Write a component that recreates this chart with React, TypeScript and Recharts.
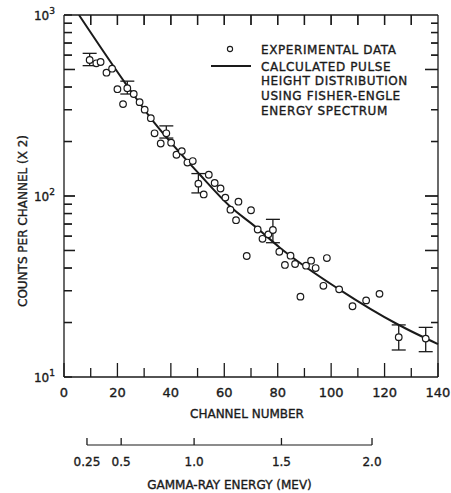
import { ComposedChart, Line, Scatter, XAxis, YAxis, ErrorBar } from "recharts"

// measured points (channel number, counts per channel x2)
const channels = [
  9.6, 12.1, 13.7, 15.9, 18.0, 20.0, 22.1, 23.7, 26.1, 28.3,
  30.2, 32.5, 33.9, 36.2, 38.3, 40.1, 42.1, 44.1, 46.2, 48.2,
  50.3, 52.3, 54.2, 56.4, 58.6, 60.4, 62.3, 64.4, 65.3, 68.4,
  70.0, 72.5, 74.3, 76.5, 78.2, 80.6, 82.7, 84.8, 86.5, 88.5,
  90.6, 92.5, 94.2, 97.1, 98.4, 103.0, 108.0, 113.1, 118.1, 125.3,
  135.4,
]
const counts = [
  564, 541, 550, 480, 505, 389, 322, 394, 366, 330,
  300, 269, 222, 195, 222, 197, 169, 177, 153, 156,
  117, 102, 131, 118, 110, 98, 84, 73.5, 93, 46.6,
  83.4, 65.3, 58, 61.4, 64.9, 49.2, 41.6, 46.8, 42.1, 27.8,
  41.2, 43.9, 40.0, 31.9, 45.4, 30.5, 24.6, 26.5, 28.8, 16.6,
  16.3,
]

// error bars (low / high count bounds)
const errChannels = [9.6, 23.7, 38.3, 50.3, 78.2, 125.3, 135.4]
const errLow = [525, 366, 209, 104, 55.2, 14.1, 13.8]
const errHigh = [614, 431, 244, 133, 74.3, 19.4, 18.8]

// calculated pulse height distribution
const curveChannels = [5.6, 23.7, 32.1, 50.9, 62.0, 72.0, 80.7, 103, 125, 140]
const curveCounts = [1000, 405, 274, 131, 88, 67, 52, 30.5, 19.5, 15.2]

const channelTicks = [0, 10, 20, 30, 40, 50, 60, 70, 80, 90, 100, 110, 120, 130, 140]
const countTicks = [10, 20, 30, 40, 50, 60, 70, 80, 90, 100, 200, 300, 400, 500, 600, 700, 800, 900, 1000]

// secondary energy scale, placed by channel number
const energyLabels = ["0.25", "0.5", "1.0", "1.5", "2.0"]
const energyChannels = [8.6, 21.4, 48.7, 81.4, 115.3]

const legendLines = ["CALCULATED PULSE", "HEIGHT DISTRIBUTION", "USING FISHER-ENGLE", "ENERGY SPECTRUM"]

const W = 451
const H = 493
const LEFT = 64
const RIGHT = 438
const TOP = 15
const BOTTOM = 377
const PX_PER_CH = (RIGHT - LEFT) / 140
const PX_PER_DECADE = (BOTTOM - TOP) / 2
const INK = "#1a1a1a"
const FONT = "'DejaVu Sans', sans-serif"
const TXT = { fontFamily: FONT, fill: INK, stroke: INK, strokeWidth: 0.35 }

const points = channels.map((c, i) => {
  const k = errChannels.indexOf(c)
  return {
    x: c,
    y: counts[i],
    err: k >= 0 ? [counts[i] - errLow[k], errHigh[k] - counts[i]] : undefined,
  }
})
const curve = curveChannels.map((c, i) => ({ x: c, y: curveCounts[i] }))

const leftLen = (v: number) => (v === 100 || v === 50 || v === 500 ? 11 : 8)
const rightLen = (v: number) => (v === 100 || v === 50 || v === 500 ? 13 : 7)

const Circle = (p: any) => (
  <circle cx={p.cx} cy={p.cy} r={3.3} fill="#fff" stroke={INK} strokeWidth={1.2} />
)

function LeftTick({ x, y, payload }: any) {
  const v = payload.value
  const decade = v === 10 || v === 100 || v === 1000
  const exp = Math.round(Math.log10(v))
  return (
    <g>
      <line x1={x} x2={x + leftLen(v)} y1={y} y2={y} stroke={INK} strokeWidth={1.3} />
      {decade && (
        <text x={x - 9} y={y + 4.5} textAnchor="end" fontSize={12} {...TXT}>
          10<tspan dy={-6} fontSize={9}>{exp}</tspan>
        </text>
      )}
    </g>
  )
}

function RightTick({ x, y, payload }: any) {
  return (
    <g>
      <line x1={x} x2={x - rightLen(payload.value)} y1={y} y2={y} stroke={INK} strokeWidth={1.3} />
    </g>
  )
}

function TopTick({ x, y }: any) {
  return (
    <g>
      <line x1={x} x2={x} y1={y} y2={y + 10} stroke={INK} strokeWidth={1.3} />
    </g>
  )
}

// inward frame ticks on left / right / top, laid out from the plot origin (0, 10)
function FrameTicks({ x0, y0 }: { x0: number; y0: number }) {
  const inner = countTicks.slice(1, -1)
  const right = x0 + 140 * PX_PER_CH
  const top = y0 - 2 * PX_PER_DECADE
  return (
    <g>
      {inner.map((v) => {
        const yy = y0 - Math.log10(v / 10) * PX_PER_DECADE
        return (
          <g key={v}>
            <line x1={x0} x2={x0 + leftLen(v)} y1={yy} y2={yy} stroke={INK} strokeWidth={1.3} />
            <line x1={right} x2={right - rightLen(v)} y1={yy} y2={yy} stroke={INK} strokeWidth={1.3} />
          </g>
        )
      })}
      {channelTicks.slice(1, -1).map((c) => {
        const xx = x0 + c * PX_PER_CH
        return <line key={c} x1={xx} x2={xx} y1={top} y2={top + 10} stroke={INK} strokeWidth={1.3} />
      })}
    </g>
  )
}

function BottomTick({ x, y, payload }: any) {
  const v = payload.value
  const major = v % 20 === 0
  return (
    <g>
      {v === 0 && <FrameTicks x0={x} y0={y} />}
      <line x1={x} x2={x} y1={y} y2={y - (major ? 14 : 9)} stroke={INK} strokeWidth={1.3} />
      {major && (
        <text x={x} y={y + 19.5} textAnchor="middle" fontSize={13} {...TXT}>
          {v}
        </text>
      )}
    </g>
  )
}

function EnergyTick({ x, y, payload }: any) {
  const i = energyChannels.indexOf(payload.value)
  const span = (energyChannels[energyChannels.length - 1] - energyChannels[0]) * PX_PER_CH
  return (
    <g>
      {i === 0 && <line x1={x} x2={x + span} y1={y} y2={y} stroke={INK} strokeWidth={1.2} />}
      <line x1={x} x2={x} y1={y} y2={y - 7} stroke={INK} strokeWidth={1.3} />
      <text x={x} y={y + 21} textAnchor="middle" fontSize={12} {...TXT}>
        {energyLabels[i]}
      </text>
    </g>
  )
}

const energyMid = LEFT + ((energyChannels[0] + energyChannels[energyChannels.length - 1]) / 2) * PX_PER_CH

// titles and legend, drawn on a plain svg laid over the chart
function Overlay() {
  const t = { fontSize: 12, ...TXT }
  return (
    <svg width={W} height={H} style={{ position: "absolute", left: 0, top: 0, pointerEvents: "none" }}>
      <text x={(LEFT + RIGHT) / 2 - 4} y={418} textAnchor="middle" {...t}>CHANNEL NUMBER</text>
      <text x={energyMid} y={489} textAnchor="middle" {...t}>GAMMA-RAY ENERGY (MEV)</text>
      <text x={23} y={225} transform="rotate(-90, 23, 221)" textAnchor="middle" {...t}>
        COUNTS PER CHANNEL (X 2)
      </text>
      <g transform="translate(205, 38)">
        <circle cx={25} cy={11} r={2.6} fill="#fff" stroke={INK} strokeWidth={1.1} />
        <line x1={6} x2={46} y1={28} y2={28} stroke={INK} strokeWidth={2} />
        <text x={56} y={15.5} letterSpacing={0.6} {...t}>EXPERIMENTAL DATA</text>
        {legendLines.map((s, i) => (
          <text key={s} x={56} y={32.5 + i * 14.8} letterSpacing={0.6} {...t}>{s}</text>
        ))}
      </g>
    </svg>
  )
}

export default function App() {
  return (
    <div style={{ position: "absolute", left: 0, top: 0, width: W, height: H }}>
      <ComposedChart width={W} height={H} margin={{ top: 3, right: 1, bottom: 0, left: 0 }}>
        <XAxis
          xAxisId="top"
          dataKey="x"
          orientation="top"
          type="number"
          domain={[0, 140]}
          ticks={channelTicks.slice(1, -1)}
          interval={0}
          height={12}
          tickSize={0}
          tickMargin={0}
          tickLine={false}
          axisLine={{ stroke: INK, strokeWidth: 1.3 }}
          tick={TopTick}
        />
        <XAxis
          xAxisId="ch"
          dataKey="x"
          type="number"
          domain={[0, 140]}
          ticks={channelTicks}
          interval={0}
          height={68}
          tickSize={0}
          tickMargin={0}
          tickLine={false}
          axisLine={{ stroke: INK, strokeWidth: 1.3 }}
          tick={BottomTick}
        />
        <XAxis
          xAxisId="energy"
          dataKey="x"
          type="number"
          domain={[0, 140]}
          ticks={energyChannels}
          interval={0}
          height={48}
          tickSize={0}
          tickMargin={0}
          tickLine={false}
          axisLine={false}
          tick={EnergyTick}
        />
        <YAxis
          yAxisId="left"
          dataKey="y"
          type="number"
          scale="log"
          domain={[10, 1000]}
          allowDataOverflow
          ticks={countTicks}
          interval={0}
          width={64}
          tickSize={0}
          tickMargin={0}
          tickLine={false}
          axisLine={{ stroke: INK, strokeWidth: 1.3 }}
          tick={LeftTick}
        />
        <YAxis
          yAxisId="right"
          dataKey="y"
          orientation="right"
          type="number"
          scale="log"
          domain={[10, 1000]}
          allowDataOverflow
          ticks={countTicks.slice(1, -1)}
          interval={0}
          width={12}
          tickSize={0}
          tickMargin={0}
          tickLine={false}
          axisLine={{ stroke: INK, strokeWidth: 1.3 }}
          tick={RightTick}
        />
        <Line
          data={curve}
          dataKey="y"
          xAxisId="top"
          yAxisId="left"
          type="monotone"
          stroke={INK}
          strokeWidth={2}
          dot={false}
          isAnimationActive={false}
        />
        {/* same curve on the energy / right scales, invisible: gives those axes their domains */}
        <Line
          data={curve}
          dataKey="y"
          xAxisId="energy"
          yAxisId="right"
          stroke="none"
          dot={false}
          activeDot={false}
          isAnimationActive={false}
        />
        <Scatter
          data={points}
          dataKey="y"
          xAxisId="ch"
          yAxisId="left"
          shape={Circle}
          isAnimationActive={false}
        >
          <ErrorBar dataKey="err" direction="y" width={7} stroke={INK} strokeWidth={1.3} />
        </Scatter>
      </ComposedChart>
      <Overlay />
    </div>
  )
}
